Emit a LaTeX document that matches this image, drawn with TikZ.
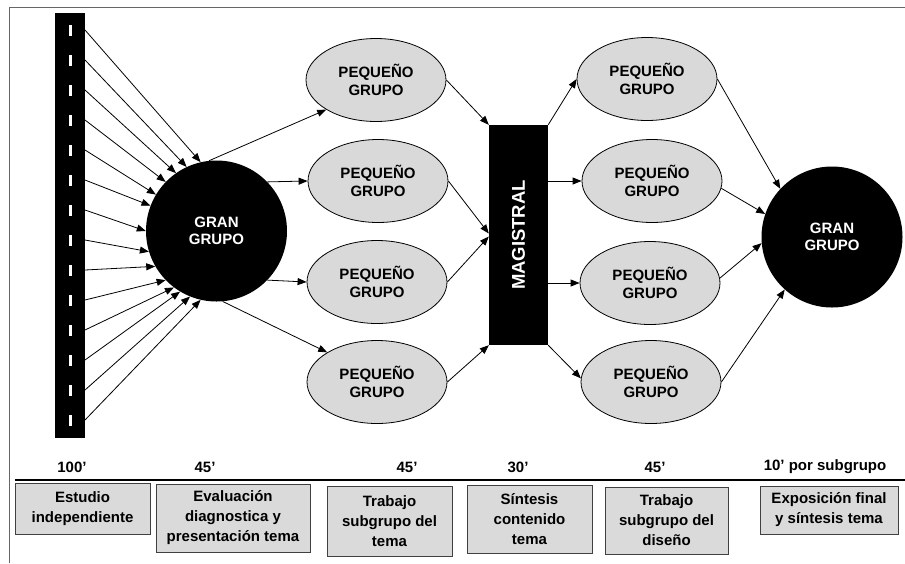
\documentclass[tikz,border=0pt]{standalone}
\usepackage{fontspec}
\setmainfont{Liberation Sans}
\usetikzlibrary{arrows.meta,shapes.geometric}
\definecolor{pgfill}{HTML}{D9D9D9}
\definecolor{boxfill}{HTML}{DADADA}
\begin{document}
\begin{tikzpicture}[x=1pt,y=-1pt,
  arr/.style={-{Triangle[length=9pt,width=7pt]}, line width=0.8pt},
  pg/.style={ellipse, draw, line width=0.8pt, fill=pgfill, minimum width=140pt, minimum height=83pt, inner sep=0pt, align=center, font=\fontsize{15}{17.5}\selectfont\bfseries},
  gg/.style={circle, fill=black, minimum size=141pt, inner sep=0pt, text=white, align=center, font=\fontsize{15}{17.5}\selectfont\bfseries},
  tlbl/.style={font=\fontsize{15}{18}\selectfont\bfseries},
  stagebox/.style={draw=black!75, fill=boxfill, line width=1pt, inner sep=0pt, align=center, font=\fontsize{15}{20}\selectfont\bfseries},
  roadbar/.style={rectangle, fill=black, minimum width=30pt, minimum height=425pt, inner sep=0pt},
  dashmark/.style={fill=white, draw=none}
]
\useasboundingbox (0,0) rectangle (905,563);
% frame
\draw[black!60, line width=0.8pt] (9,563) -- (9,7) -- (905,7);
% road
\node[roadbar] (R) at (70,225.5) {};
\foreach \k in {0,...,13}{
  \fill[dashmark] (68.5,25+30*\k) rectangle (72,36+30*\k);
}
% big circles
\node[gg] (G1) at (216.5,231) {GRAN\\GRUPO};
\node[gg] (G2) at (832,237) {GRAN\\GRUPO};
% small groups
\node[pg] (E1) at (376,80) {PEQUEÑO\\GRUPO};
\node[pg] (E2) at (378,181) {PEQUEÑO\\GRUPO};
\node[pg] (E3) at (377,282) {PEQUEÑO\\GRUPO};
\node[pg] (E4) at (377,382) {PEQUEÑO\\GRUPO};
\node[pg] (F1) at (647,79) {PEQUEÑO\\GRUPO};
\node[pg] (F2) at (652,181) {PEQUEÑO\\GRUPO};
\node[pg] (F3) at (650,283) {PEQUEÑO\\GRUPO};
\node[pg] (F4) at (651,382) {PEQUEÑO\\GRUPO};
% magistral
\node[rectangle, fill=black, minimum width=59pt, minimum height=220pt, inner sep=0pt] (M) at (518.5,235) {};
\node[rotate=90, text=white, font=\fontsize{18.5}{20}\selectfont\bfseries] (Mt) at (M.center) {MAGISTRAL};
% road arrows
\foreach \k/\a in {0/103.6,1/115.5,2/125,3/136,4/149,5/159,6/180,7/197,8/210,9/224,10/233,11/239,12/248,13/257}{
  \coordinate (s\k) at (85,30+30*\k);
  \draw[arr] (s\k) -- (G1.\a);
}
% G1 to groups
\draw[arr] (G1.96) -- (E1.south west);
\draw[arr] (G1.44) -- (E2.west);
\draw[arr] (G1.-44) -- (E3.west);
\draw[arr] (G1.-85) -- (E4.north west);
% groups to magistral
\draw[arr] (E1.east) -- (M.north west);
\draw[arr] (E2.east) -- ([yshift=1.5pt]M.west);
\draw[arr] (E3.east) -- ([yshift=-1.5pt]M.west);
\draw[arr] (E4.east) -- (M.south west);
% magistral to groups
\draw[arr] (M.north east) -- (F1.west);
\draw[arr] (M.east |- F2.west) -- (F2.west);
\draw[arr] (M.east |- F3.west) -- (F3.west);
\draw[arr] (M.south east) -- (F4.177);
% groups to G2
\draw[arr] (F1.east) -- (G2.137);
\draw[arr] (F2.-6) -- (G2.161);
\draw[arr] (F3.4) -- (G2.185);
\draw[arr] (F4.east) -- (G2.228);
% timeline
\coordinate (L0) at (15,480);
\coordinate (L1) at (905,480);
\draw[line width=2pt] (L0) -- (L1);
\node[tlbl] (t1) at (72,467) {100’};
\node[tlbl] (t2) at (205,467) {45’};
\node[tlbl] (t3) at (407,467) {45’};
\node[tlbl] (t4) at (518,467) {30’};
\node[tlbl] (t5) at (655,467) {45’};
\node[tlbl] (t6) at (825,467) {10’ por subgrupo};
% boxes
\node[stagebox, minimum width=135pt, minimum height=51pt] (b1) at (82.5,508.5) {Estudio\\independiente};
\node[stagebox, minimum width=154pt, minimum height=68pt] (b2) at (233,518) {Evaluación\\diagnostica y\\presentación tema};
\node[stagebox, minimum width=125pt, minimum height=70pt] (b3) at (389.5,521) {Trabajo\\subgrupo del\\tema};
\node[stagebox, minimum width=125pt, minimum height=68pt] (b4) at (529.5,519) {Síntesis\\contenido\\tema};
\node[stagebox, minimum width=123pt, minimum height=67pt] (b5) at (666.5,520.5) {Trabajo\\subgrupo del\\diseño};
\node[stagebox, minimum width=138pt, minimum height=48pt] (b6) at (829,510) {Exposición final\\y síntesis tema};
\end{tikzpicture}
\end{document}
